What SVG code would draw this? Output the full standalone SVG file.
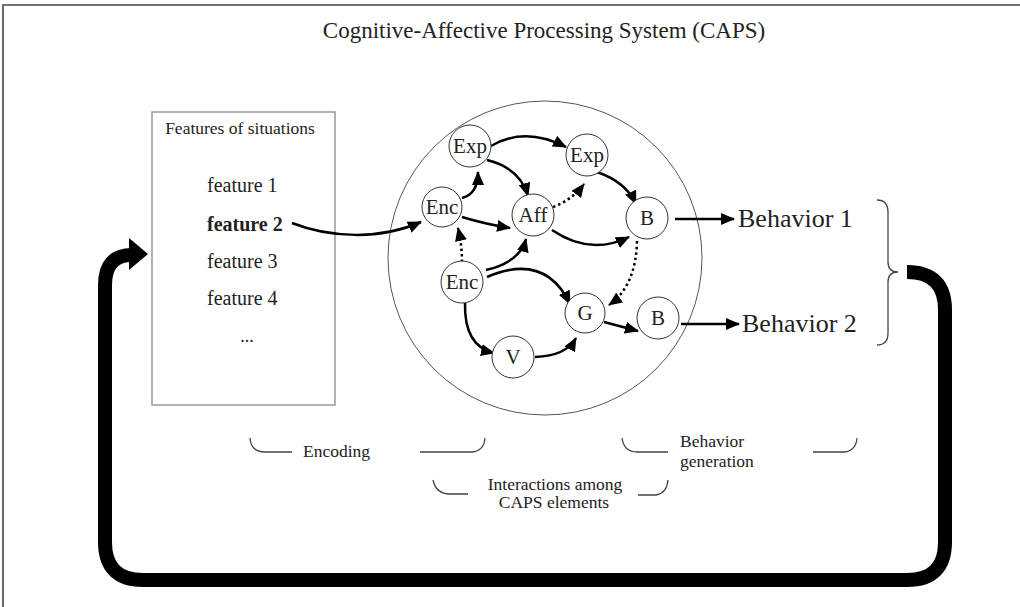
<svg xmlns="http://www.w3.org/2000/svg" width="1020" height="607" viewBox="0 0 1020 607">
<defs>
<style>
text{font-family:"Liberation Serif","Times New Roman",serif;fill:#222}
.node circle{fill:#fff;stroke:#333;stroke-width:1}
.node text{font-size:21px;text-anchor:middle}
.c{fill:none;stroke:#000;stroke-width:2.5}
.d{fill:none;stroke:#000;stroke-width:2.5;stroke-dasharray:2.5 3}
.br{fill:none;stroke:#444;stroke-width:1.3}
.lbl{font-size:17.5px}
</style>
<marker id="ah" markerUnits="userSpaceOnUse" markerWidth="14" markerHeight="12" refX="13" refY="6" orient="auto">
<path d="M0,0 L14,6 L0,12 z" fill="#000"/>
</marker>
</defs>
<rect width="1020" height="607" fill="#fff"/>
<path d="M3,607 L3,5 L1020,5" fill="none" stroke="#444" stroke-width="1.6"/>
<text x="544" y="38" font-size="23" text-anchor="middle">Cognitive-Affective Processing System (CAPS)</text>

<g id="features">
<rect x="152" y="112" width="183" height="293" fill="#fff" stroke="#999" stroke-width="1.5"/>
<text x="240" y="134" font-size="17.5" text-anchor="middle">Features of situations</text>
<text x="207" y="192" font-size="20">feature 1</text>
<text x="207" y="231" font-size="20" font-weight="bold">feature 2</text>
<text x="207" y="268" font-size="20">feature 3</text>
<text x="207" y="305" font-size="20">feature 4</text>
<text x="247" y="342" font-size="18" text-anchor="middle">...</text>
</g>

<g id="caps-circle">
<circle cx="545" cy="258" r="157" fill="none" stroke="#555" stroke-width="1"/>
</g>

<g id="connectors">
<path class="c" d="M292,223 C330,238 380,240 421,222" marker-end="url(#ah)"/>
<path class="c" d="M462,198 Q478,194 478,172" marker-end="url(#ah)"/>
<path class="c" d="M491,146 Q525,126 566,147" marker-end="url(#ah)"/>
<path class="c" d="M487,160 Q520,168 528,196" marker-end="url(#ah)"/>
<path class="c" d="M462,217 Q485,224 510,228" marker-end="url(#ah)"/>
<path class="d" d="M553,207 Q572,200 584,184" marker-end="url(#ah)"/>
<path class="c" d="M597,172 Q626,182 636,204" marker-end="url(#ah)"/>
<path class="c" d="M552,230 Q590,256 629,237" marker-end="url(#ah)"/>
<path class="d" d="M462,262 Q462,245 458,228" marker-end="url(#ah)"/>
<path class="c" d="M486,270 Q520,262 526,239" marker-end="url(#ah)"/>
<path class="c" d="M487,277 Q545,252 570,304" marker-end="url(#ah)"/>
<path class="d" d="M637,241 Q636,286 609,305" marker-end="url(#ah)"/>
<path class="c" d="M465,303 Q464,346 494,353" marker-end="url(#ah)"/>
<path class="c" d="M535,357 Q566,356 576,338" marker-end="url(#ah)"/>
<path class="c" d="M604,322 L638,331" marker-end="url(#ah)"/>
<path class="c" d="M675,219 L734,219" marker-end="url(#ah)"/>
<path class="c" d="M681,324 L739,324" marker-end="url(#ah)"/>
<path d="M907,272 Q945,272 945,310 L945,542 Q945,580 907,580 L143,580 Q105,580 105,542 L105,285 Q105,255 132,255" fill="none" stroke="#000" stroke-width="14"/>
<polygon points="129,238 148,254 129,270" fill="#000"/>
</g>

<g id="node-exp1" class="node"><circle cx="470" cy="146" r="21"/><text x="470" y="153">Exp</text></g>
<g id="node-exp2" class="node"><circle cx="587" cy="155" r="21"/><text x="587" y="162">Exp</text></g>
<g id="node-enc1" class="node"><circle cx="442" cy="207" r="20"/><text x="442" y="214">Enc</text></g>
<g id="node-aff" class="node"><circle cx="533" cy="215" r="21"/><text x="533" y="222">Aff</text></g>
<g id="node-b1" class="node"><circle cx="647" cy="218" r="21"/><text x="647" y="225">B</text></g>
<g id="node-enc2" class="node"><circle cx="462" cy="282" r="21"/><text x="462" y="289">Enc</text></g>
<g id="node-g" class="node"><circle cx="585" cy="313" r="20"/><text x="585" y="320">G</text></g>
<g id="node-b2" class="node"><circle cx="658" cy="318" r="21"/><text x="658" y="325">B</text></g>
<g id="node-v" class="node"><circle cx="513" cy="357" r="21"/><text x="513" y="364">V</text></g>

<g id="behavior1"><text x="738" y="227" font-size="26">Behavior 1</text></g>
<g id="behavior2"><text x="742" y="332" font-size="26">Behavior 2</text></g>
<path class="br" d="M877,200 Q888,200 888,212 L888,262 Q888,272 898,272 Q888,272 888,282 L888,333 Q888,345 877,345"/>

<g id="label-encoding">
<path class="br" d="M250,438 Q251,452 265,452 L292,452"/>
<path class="br" d="M420,452 L472,452 Q484,451 485,438"/>
<text class="lbl" x="303" y="457">Encoding</text>
</g>
<g id="label-interactions">
<path class="br" d="M433,480 Q436,494 450,494 L468,494"/>
<path class="br" d="M638,495 L656,495 Q667,493 668,480"/>
<text class="lbl" x="555" y="490" text-anchor="middle">Interactions among</text>
<text class="lbl" x="554" y="508" text-anchor="middle">CAPS elements</text>
</g>
<g id="label-behavior-generation">
<path class="br" d="M622,438 Q624,452 637,452 L668,452"/>
<path class="br" d="M813,452 L844,452 Q856,451 857,438"/>
<text class="lbl" x="680" y="447">Behavior</text>
<text class="lbl" x="680" y="467">generation</text>
</g>
</svg>
